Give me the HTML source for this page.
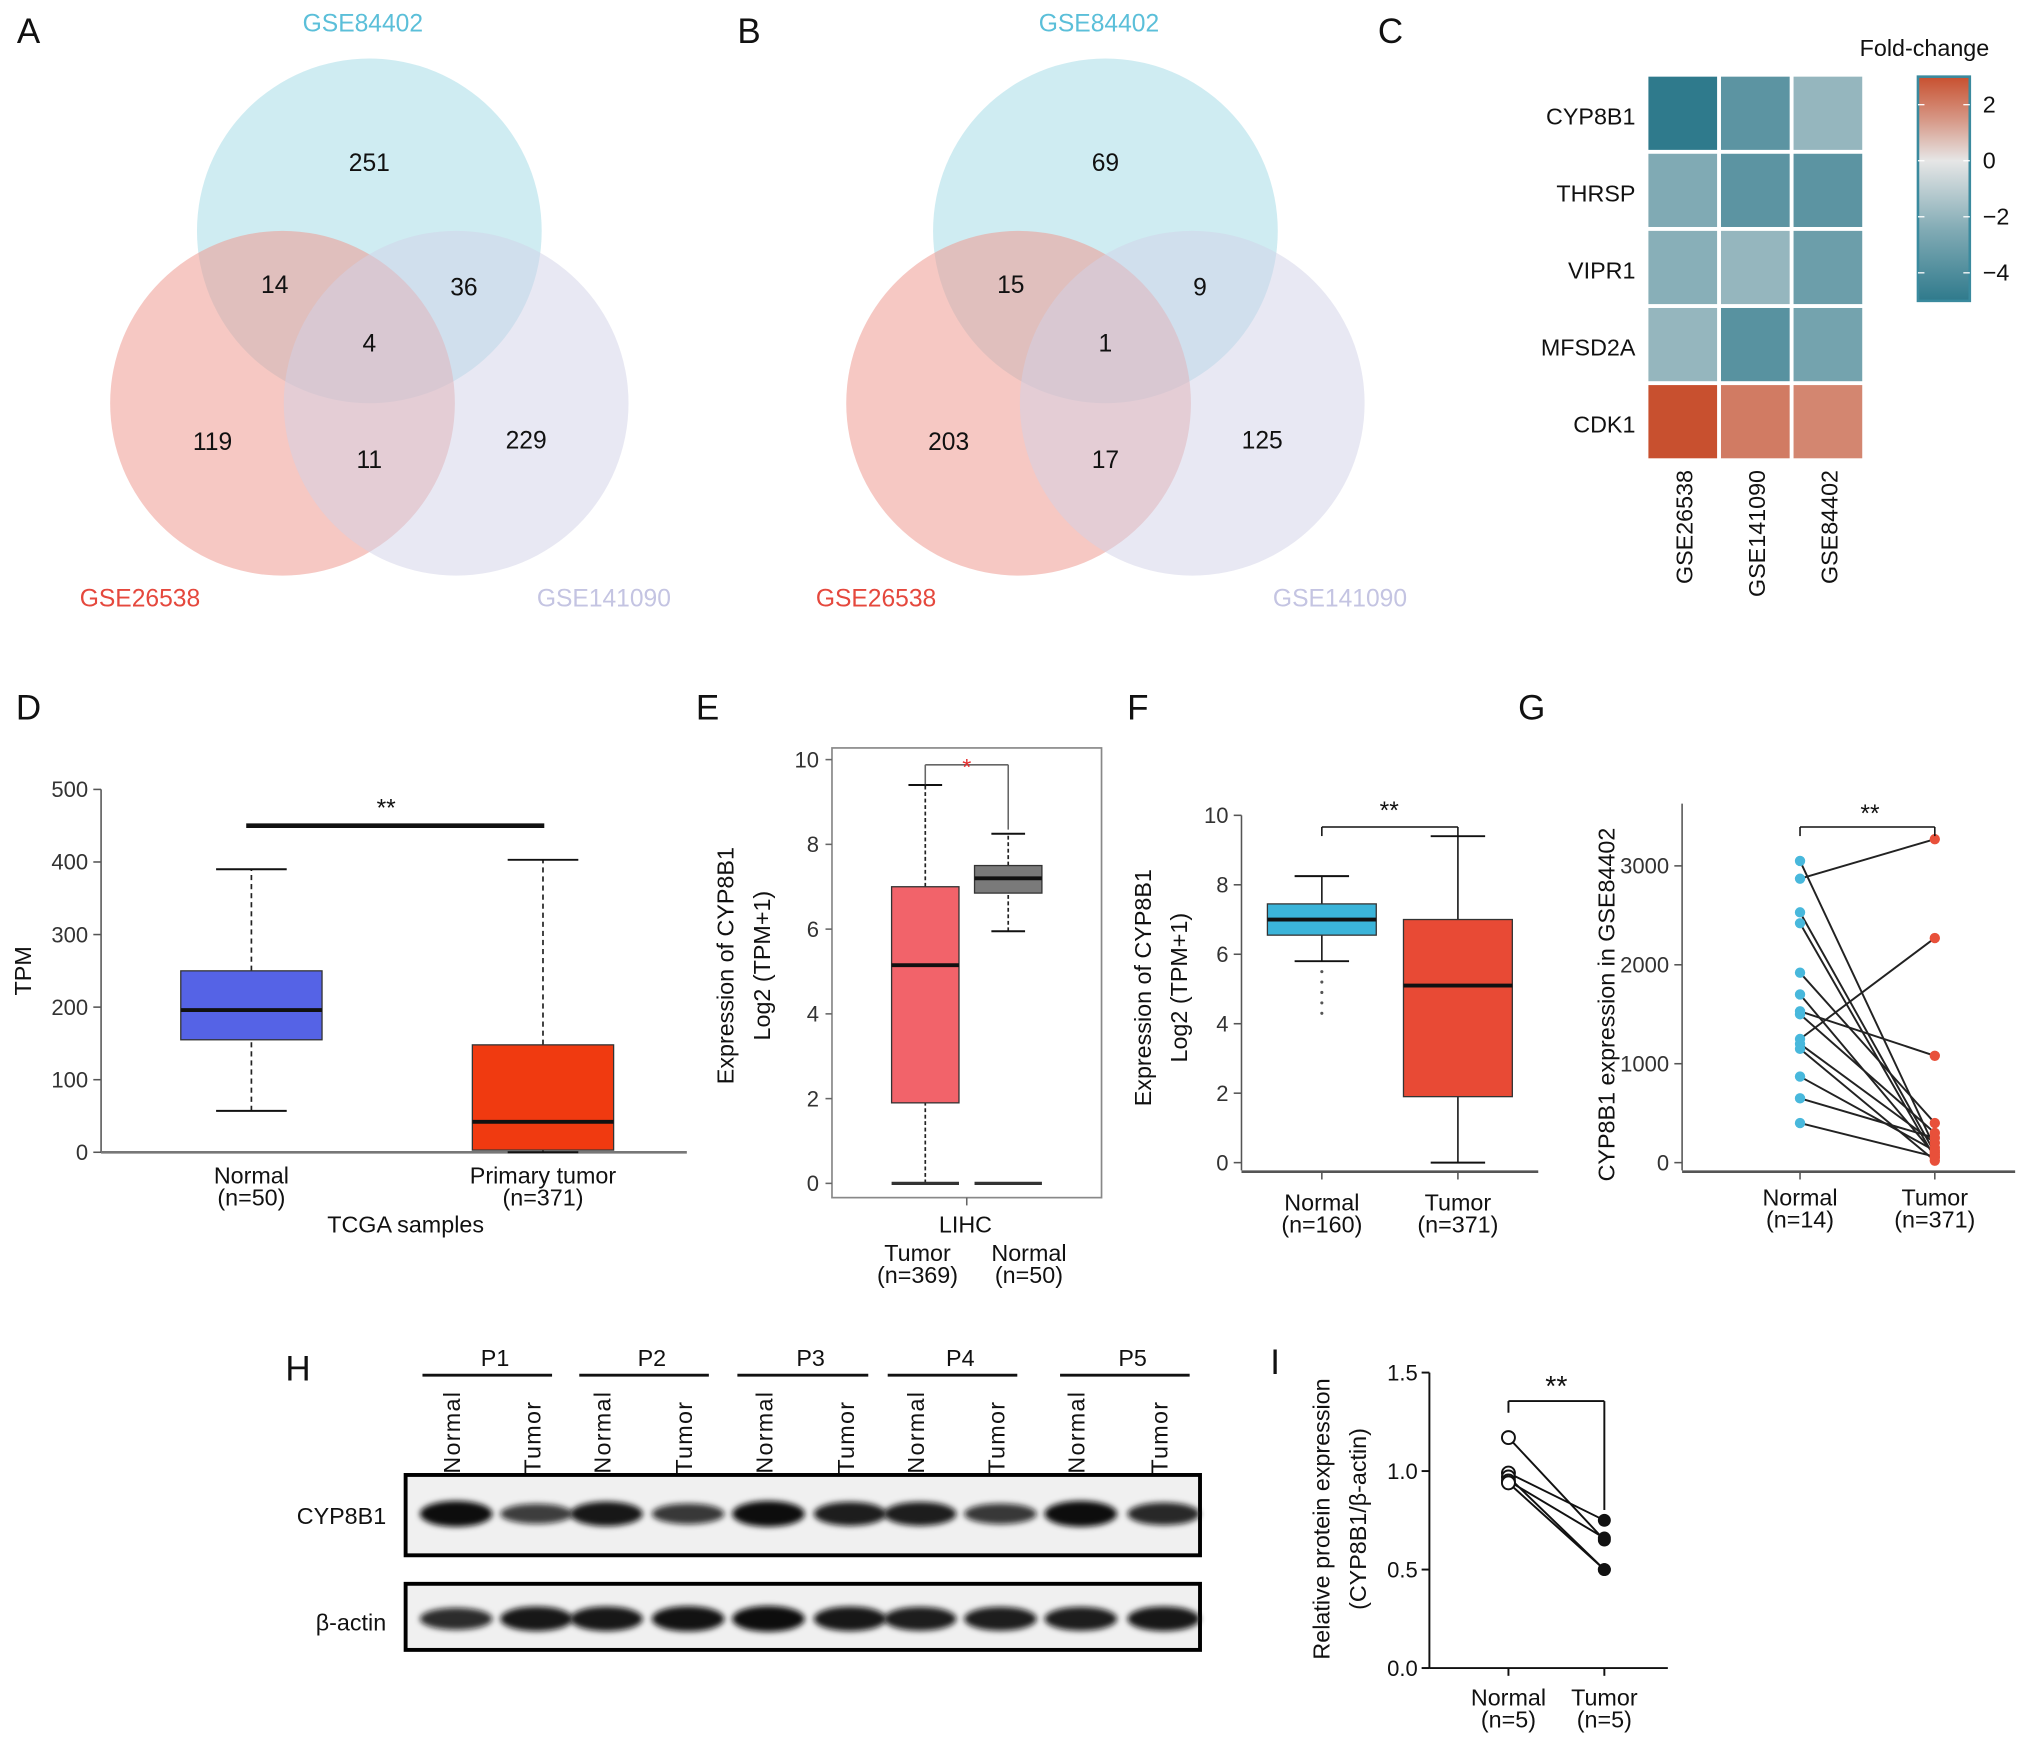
<!DOCTYPE html>
<html><head><meta charset="utf-8">
<style>
html,body{margin:0;padding:0;background:#fff;}
svg{display:block;font-family:"Liberation Sans",Arial,sans-serif;}
</style></head>
<body>
<svg id="fig" width="2032" height="1746" viewBox="0 0 1568 1347" xmlns="http://www.w3.org/2000/svg">
<defs><filter id="blur" x="-20%" y="-50%" width="140%" height="200%"><feGaussianBlur stdDeviation="2.2"/></filter></defs>
<rect width="1568" height="1347" fill="#fff"/>
<g id="root"></g>
</svg>
<script>
// ---------- DATA ----------
const vennA = ["251","14","36","4","119","11","229"];
const vennB = ["69","15","9","1","203","17","125"];
const vennSets = ["GSE84402","GSE26538","GSE141090"];
const heatGenes = ["CYP8B1","THRSP","VIPR1","MFSD2A","CDK1"];
const heatSets = ["GSE26538","GSE141090","GSE84402"];
const heatVals = [[-4.5,-3.4,-2.0],[-2.5,-3.4,-3.4],[-2.3,-2.0,-3.0],[-2.0,-3.5,-2.8],[2.8,2.0,1.8]];
const cbTicks = [2,0,-2,-4];
const dTicks = [0,100,200,300,400,500];
const dCats = ["Normal","Primary tumor"];
const dN = ["(n=50)","(n=371)"];
const dBox = [[57,155,196,250,390],[0,3,42,148,403]];
const eTicks = [0,2,4,6,8,10];
const eCats = ["Tumor","Normal"];
const eN = ["(n=369)","(n=50)"];
const eBox = [[0,1.9,5.15,7.0,9.4],[5.95,6.85,7.2,7.5,8.25]];
const fTicks = [0,2,4,6,8,10];
const fCats = ["Normal","Tumor"];
const fN = ["(n=160)","(n=371)"];
const fBox = [[5.8,6.55,7.0,7.45,8.25],[0,1.9,5.1,7.0,9.4]];
const fOutliers = [5.5,5.2,4.9,4.6,4.3];
const gTicks = [0,1000,2000,3000];
const gCats = ["Normal","Tumor"];
const gN = ["(n=14)","(n=371)"];
const gNormal = [3050,2870,2530,2420,1920,1700,1530,1500,1250,1200,1150,870,650,400];
const gTumor = [150,3270,100,50,400,80,1080,300,2270,200,20,120,250,60];
const iTicks = [0.0,0.5,1.0,1.5];
const iTickLabels = ["0.0","0.5","1.0","1.5"];
const iCats = ["Normal","Tumor"];
const iN = ["(n=5)","(n=5)"];
const iNormal = [1.17,0.99,0.97,0.95,0.94];
const iTumor = [0.65,0.75,0.5,0.66,0.5];
const blotPatients = ["P1","P2","P3","P4","P5"];
const cypBand = [1.0,0.55,0.9,0.6,1.0,0.85,0.85,0.6,1.0,0.75];
const actBand = [0.7,0.9,0.9,0.95,1.0,0.9,0.85,0.85,0.85,0.9];

// ---------- HELPERS ----------
const NS="http://www.w3.org/2000/svg";
const root=document.getElementById('root');
function mk(tag,attrs,parent,txt){const e=document.createElementNS(NS,tag);for(const k in attrs)e.setAttribute(k,attrs[k]);if(txt!==undefined)e.textContent=txt;(parent||root).appendChild(e);return e;}
function T(x,y,s,size,anchor,name,extra){const e=mk('text',Object.assign({x:x,y:y,'font-size':size||17,'text-anchor':anchor||'middle',fill:'#111'},extra||{}),null,s);


return e;}
function L(x1,y1,x2,y2,name,w,c,dash){const e=mk('line',{x1:x1,y1:y1,x2:x2,y2:y2,stroke:c||'#111','stroke-width':w||1.5});if(dash)e.setAttribute('stroke-dasharray',dash);


return e;}
function lin(d0,d1,r0,r1){return v=>r0+(v-d0)*(r1-r0)/(d1-d0);}

[["A",22,33],["B",578,33],["C",1073,33],["D",22,555],["E",546,555],["F",878,555],["G",1182,555],["H",230,1065],["I",984,1060]].forEach(p=>{T(p[1],p[2],p[0],27,'middle','panel-label-'+p[0].toLowerCase());});

// ---------- VENN ----------
function venn(dx,vals,key){
  const circ=[[285,178,'#a8dce8',0.55],[218,311,'#ef9a92',0.55],[352,311,'#d2d2e8',0.5]];
  circ.forEach((c,i)=>{const e=mk('ellipse',{cx:c[0]+dx,cy:c[1],rx:133,ry:133,fill:c[2],'fill-opacity':c[3]});
  
  });
  const pos=[[285,125],[212,219],[358,221],[285,264],[164,340],[285,354],[406,339]];
  vals.forEach((v,i)=>T(pos[i][0]+dx,pos[i][1]+7,v,19,'middle',key+'-count'));
  T(280+dx,24,vennSets[0],19,'middle',key+'-set-label',{fill:'#5bbfd9'});
  T(108+dx,468,vennSets[1],19,'middle',key+'-set-label',{fill:'#e5483d'});
  T(466+dx,468,vennSets[2],19,'middle',key+'-set-label',{fill:'#c4c4e2'});
}
venn(0,vennA,'venn-a');venn(568,vennB,'venn-b');

// ---------- HEATMAP ----------
function hex(c){return[parseInt(c.slice(1,3),16),parseInt(c.slice(3,5),16),parseInt(c.slice(5,7),16)];}
function mix(a,b,t){a=hex(a);b=hex(b);return'rgb('+a.map((v,i)=>Math.round(v+(b[i]-v)*t)).join(',')+')';}
function hcol(v){return v<0?mix('#e6e6e6','#2f7a8c',Math.min(1,-v/4.5)):mix('#e6e6e6','#c8502f',Math.min(1,v/2.8));}
const hx0=1272,hcw=56,hy0=59,hrh=59.5;
heatGenes.forEach((g,r)=>{
  T(hx0-10,hy0+r*hrh+hrh/2+7,g,18,'end','heatmap-row-label');
  heatSets.forEach((s,c)=>{const e=mk('rect',{x:hx0+c*hcw,y:hy0+r*hrh,width:hcw-3,height:hrh-3,fill:hcol(heatVals[r][c])});
  
  });
});
heatSets.forEach((s,c)=>{T(0,0,s,18,'end','heatmap-col-label',{transform:`translate(${hx0+c*hcw+hcw/2+6},${hy0+5*hrh+6}) rotate(-90)`});});
const cbY=lin(3,-5,59,232);
const defs=document.querySelector('defs');const gr=mk('linearGradient',{id:'cbg',x1:0,y1:0,x2:0,y2:1},defs);
[3,1.5,0,-2.5,-5].forEach(v=>mk('stop',{offset:(cbY(v)-59)/173,'stop-color':hcol(v)},gr));
const cb=mk('rect',{x:1480,y:59,width:40,height:173,fill:'url(#cbg)',stroke:'#3a8a9e','stroke-width':2});


cbTicks.forEach(v=>{T(1530,cbY(v)+6,v<0?'−'+(-v):String(v),18,'start','colorbar-tick');L(1480,cbY(v),1485,cbY(v),'colorbar-tick-mark',1,'#fff');L(1515,cbY(v),1520,cbY(v),'colorbar-tick-mark',1,'#fff');});
T(1485,43,'Fold-change',18,'middle','colorbar-title');

function box(xc,w,b,y,fill,name,dash){
  L(xc,y(b[0]),xc,y(b[1]),name+'-whisker-low',1.3,'#222',dash);
  L(xc,y(b[3]),xc,y(b[4]),name+'-whisker-high',1.3,'#222',dash);
  L(xc-w/4,y(b[0]),xc+w/4,y(b[0]),name+'-cap-low',1.5);
  L(xc-w/4,y(b[4]),xc+w/4,y(b[4]),name+'-cap-high',1.5);
  const r=mk('rect',{x:xc-w/2,y:y(b[3]),width:w,height:y(b[1])-y(b[3]),fill:fill,stroke:'#333','stroke-width':1});
  
  
  L(xc-w/2,y(b[2]),xc+w/2,y(b[2]),name+'-median',3,'#111');
}

// ---------- D ----------
const dY=lin(0,500,889,609);
L(78,dY(0),78,dY(500),'d-y-axis',1.2,'#555');L(78,889,530,889,'d-x-axis',2,'#777');
dTicks.forEach(v=>{L(72,dY(v),78,dY(v),'d-tick',1.2,'#555');T(68,dY(v)+6,String(v),17,'end','d-tick-label',{fill:'#333'});});
const dX=[194,419];
dBox.forEach((b,i)=>{box(dX[i],109,b,dY,i?'#f03a10':'#5563e6','d-'+dCats[i].toLowerCase().replace(' ','-'),'4,3');
 T(dX[i],913,dCats[i],18,'middle','d-category-label');T(dX[i],930,dN[i],18,'middle','d-n-label');});
L(190,637,420,637,'d-significance-bar',3.5);T(298,630,'**',19,'middle','d-significance');
T(313,951,'TCGA samples',18,'middle','d-x-title');
T(0,0,'TPM',18,'middle','d-y-title',{transform:'translate(24,749) rotate(-90)'});

// ---------- E ----------
const eY=lin(0,10,913,586);
const fr=mk('rect',{x:642,y:577,width:208,height:347,fill:'none',stroke:'#888','stroke-width':1.3});


eTicks.forEach(v=>{L(637,eY(v),642,eY(v),'e-tick',1.2,'#666');T(632,eY(v)+6,String(v),17,'end','e-tick-label',{fill:'#333'});});
const eX=[714,778];
eBox.forEach((b,i)=>{box(eX[i],52,b,eY,i?'#7a7a7a':'#f2636a','e-'+eCats[i].toLowerCase(),'3,2');
 L(eX[i]-26,eY(0),eX[i]+26,eY(0),'e-zero-line',2.5,'#333');});
L(714,590,778,590,'e-bracket',1.2,'#666');L(714,590,714,605,'e-bracket-left',1.2,'#666');L(778,590,778,640,'e-bracket-right',1.2,'#666');
T(746,598,'*',18,'middle','e-significance',{fill:'#e53030'});
L(746,924,746,930,'e-x-tick',1.2,'#666');
T(745,951,'LIHC',18,'middle','e-x-group');
eCats.forEach((c,i)=>{const x=[708,794][i];T(x,973,c,18,'middle','e-category-label');T(x,990,eN[i],18,'middle','e-n-label');});
T(0,0,'Expression of CYP8B1',18,'middle','e-y-title',{transform:'translate(566,745) rotate(-90)'});
T(0,0,'Log2 (TPM+1)',18,'middle','e-y-title',{transform:'translate(594,745) rotate(-90)'});

// ---------- F ----------
const fY=lin(0,10,897,629);
L(958,fY(0)+6,958,fY(10),'f-y-axis',1.2,'#555');L(958,904,1187,904,'f-x-axis',2,'#555');
fTicks.forEach(v=>{L(952,fY(v),958,fY(v),'f-tick',1.2,'#555');T(948,fY(v)+6,String(v),17,'end','f-tick-label',{fill:'#333'});});
const fX=[1020,1125];
fBox.forEach((b,i)=>{box(fX[i],84,b,fY,i?'#e84a35':'#3bb4d9','f-'+fCats[i].toLowerCase());
 L(fX[i],904,fX[i],910,'f-x-tick',1.2,'#555');
 T(fX[i],934,fCats[i],18,'middle','f-category-label');T(fX[i],951,fN[i],18,'middle','f-n-label');});
fOutliers.forEach(v=>{const c=mk('circle',{cx:1020,cy:fY(v),r:1.2,fill:'#555'});
 
 });
L(1020,638,1125,638,'f-bracket',1.2);L(1020,638,1020,645,'f-bracket-l',1.2);L(1125,638,1125,645,'f-bracket-r',1.2);
T(1072,632,'**',19,'middle','f-significance');
T(0,0,'Expression of CYP8B1',18,'middle','f-y-title',{transform:'translate(888,762) rotate(-90)'});
T(0,0,'Log2 (TPM+1)',18,'middle','f-y-title',{transform:'translate(916,762) rotate(-90)'});

// ---------- G ----------
const gY=lin(0,3000,897,668);
L(1298,fY(0)+6,1298,620,'g-y-axis',1.2,'#555');L(1298,904,1555,904,'g-x-axis',2,'#555');
gTicks.forEach(v=>{L(1292,gY(v),1298,gY(v),'g-tick',1.2,'#555');T(1288,gY(v)+6,String(v),17,'end','g-tick-label',{fill:'#333'});});
const gX=[1389,1493];
gNormal.forEach((v,i)=>{L(gX[0],gY(v),gX[1],gY(gTumor[i]),'g-pair-line',1.5,'#222');});
gNormal.forEach(v=>{const c=mk('circle',{cx:gX[0],cy:gY(v),r:4,fill:'#48b8dc'});
 
 });
gTumor.forEach(v=>{const c=mk('circle',{cx:gX[1],cy:gY(v),r:4,fill:'#e8503a'});
 
 });
gCats.forEach((c,i)=>{L(gX[i],904,gX[i],910,'g-x-tick',1.2,'#555');T(gX[i],930,c,18,'middle','g-category-label');T(gX[i],947,gN[i],18,'middle','g-n-label');});
L(1389,638,1493,638,'g-bracket',1.2);L(1389,638,1389,645,'g-bracket-l',1.2);L(1493,638,1493,645,'g-bracket-r',1.2);
T(1443,634,'**',19,'middle','g-significance');
T(0,0,'CYP8B1 expression in GSE84402',18,'middle','g-y-title',{transform:'translate(1246,775) rotate(-90)'});

// ---------- H ----------
const pX=[[326,426],[447,547],[569,670],[685,785],[818,918]];
blotPatients.forEach((p,i)=>{L(pX[i][0],1061,pX[i][1],1061,'h-patient-line',2.2);T((pX[i][0]+pX[i][1])/2+6,1054,p,18,'middle','h-patient-label');});
const laneX=[348,410,464,527,589,652,706,768,830,894];
laneX.forEach((x,i)=>{T(0,0,i%2?'Tumor':'Normal',18,'start','h-lane-label',{transform:`translate(${x+7},${1137}) rotate(-90)`,'letter-spacing':'1'});});
[[1138,62,'cyp8b1',cypBand,1168],[1222,51,'beta-actin',actBand,1249]].forEach(bl=>{
  const fb=mk('rect',{x:313,y:bl[0],width:613,height:bl[1],fill:'#f0f0f0',stroke:'#000','stroke-width':3});
  
  
  laneX.forEach((x,i)=>{const s=bl[3][i];const e=mk('ellipse',{cx:x+4,cy:bl[4],rx:28,ry:5+5*s,fill:'#111','fill-opacity':0.55+0.45*s,filter:'url(#blur)'});
   
   });
});
T(298,1176,'CYP8B1',18,'end','h-row-label');T(298,1258,'β-actin',18,'end','h-row-label');

// ---------- I ----------
const iY=lin(0,1.5,1287,1059);
L(1103,1287,1103,1059,'i-y-axis',1.5);L(1103,1287,1287,1287,'i-x-axis',1.5);
iTicks.forEach((v,k)=>{L(1097,iY(v),1103,iY(v),'i-tick',1.5);T(1094,iY(v)+6,iTickLabels[k],17,'end','i-tick-label');});
const iX=[1164,1238];
iNormal.forEach((v,i)=>L(iX[0],iY(v),iX[1],iY(iTumor[i]),'i-pair-line',1.5));
iNormal.forEach(v=>{const c=mk('circle',{cx:iX[0],cy:iY(v),r:5,fill:'#fff',stroke:'#111','stroke-width':1.5});
 
 });
iTumor.forEach(v=>{const c=mk('circle',{cx:iX[1],cy:iY(v),r:5,fill:'#111'});
 
 });
iCats.forEach((c,i)=>{L(iX[i],1287,iX[i],1293,'i-x-tick',1.5);T(iX[i],1316,c,18,'middle','i-category-label');T(iX[i],1333,iN[i],18,'middle','i-n-label');});
L(1164,1081,1238,1081,'i-bracket',1.5);L(1164,1081,1164,1090,'i-bracket-l',1.5);L(1238,1081,1238,1165,'i-bracket-r',1.5);
T(1201,1077,'**',22,'middle','i-significance');
T(0,0,'Relative protein expression',18,'middle','i-y-title',{transform:'translate(1026,1172) rotate(-90)'});
T(0,0,'(CYP8B1/β-actin)',18,'middle','i-y-title',{transform:'translate(1054,1172) rotate(-90)'});
</script>
</body></html>
